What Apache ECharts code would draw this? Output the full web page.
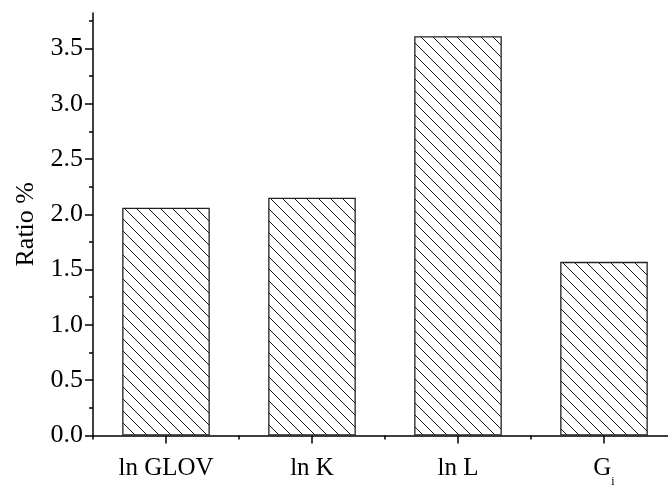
<!DOCTYPE html>
<html>
<head>
<meta charset="utf-8">
<script src="https://cdn.jsdelivr.net/npm/echarts@6/dist/echarts.min.js"></script>
<style>html,body{margin:0;padding:0;background:#fff;}#c{width:668px;height:489px;}</style>
</head>
<body>
<div id="c"></div>
<script>
var categories = ['ln GLOV', 'ln K', 'ln L', '{g|G}{sub|i}'];
var ratioValues = [2.06, 2.15, 3.61, 1.57];
var yMajorTicks = [0, 0.5, 1.0, 1.5, 2.0, 2.5, 3.0, 3.5];
var yMinorTicks = [0.25, 0.75, 1.25, 1.75, 2.25, 2.75, 3.25, 3.75];

var FONT = '"Liberation Serif", "Times New Roman", serif';

function makeHatch() {
  var s = 12;
  var cv = document.createElement('canvas');
  cv.width = s; cv.height = s;
  var ctx = cv.getContext('2d');
  ctx.fillStyle = '#ffffff';
  ctx.fillRect(0, 0, s, s);
  ctx.strokeStyle = '#1a1a1a';
  ctx.lineWidth = 1;
  ctx.beginPath();
  ctx.moveTo(-2, -2); ctx.lineTo(s + 2, s + 2);
  ctx.moveTo(-2, s - 2); ctx.lineTo(2, s + 2);
  ctx.moveTo(s - 2, -2); ctx.lineTo(s + 2, 2);
  ctx.stroke();
  return cv;
}

var chart = echarts.init(document.getElementById('c'), null, {renderer: 'canvas'});
var axisColor = '#000';
chart.setOption({
  animation: false,
  backgroundColor: '#fff',
  grid: {left: 93, top: 13, width: 584, height: 422.5, containLabel: false, outerBoundsMode: 'none'},
  xAxis: [{
    type: 'category',
    position: 'bottom',
    data: categories,
    axisLine: {show: true, lineStyle: {color: axisColor, width: 1.5}},
    axisTick: {show: true, alignWithLabel: true, length: 8, lineStyle: {color: axisColor, width: 1.5}},
    axisLabel: {
      color: '#000', fontFamily: FONT, fontSize: 25, margin: 20, interval: 0,
      rich: {
        g: {fontSize: 25, fontFamily: FONT, color: '#000', verticalAlign: 'bottom', padding: [0, 0, 7, 0]},
        sub: {fontSize: 12, fontFamily: FONT, color: '#000', verticalAlign: 'bottom', padding: [0, 0, 0, 0]}
      }
    },
    splitLine: {show: false}
  }, {
    type: 'category',
    position: 'bottom',
    data: categories,
    axisLine: {show: false},
    axisTick: {show: true, alignWithLabel: false, length: 4, lineStyle: {color: axisColor, width: 1.5}},
    axisLabel: {show: false},
    splitLine: {show: false}
  }],
  yAxis: [{
    type: 'value',
    position: 'left',
    min: 0, max: 3.82,
    name: 'Ratio %',
    nameLocation: 'middle',
    nameGap: 52,
    nameTextStyle: {color: '#000', fontFamily: FONT, fontSize: 26},
    axisLine: {show: true, lineStyle: {color: axisColor, width: 1.5}},
    axisTick: {show: true, length: 8, customValues: yMajorTicks, lineStyle: {color: axisColor, width: 1.5}},
    axisLabel: {
      color: '#000', fontFamily: FONT, fontSize: 26, margin: 10, customValues: yMajorTicks,
      formatter: function (v) { return v.toFixed(1); }
    },
    splitLine: {show: false}
  }, {
    type: 'value',
    position: 'left',
    min: 0, max: 3.82,
    axisLine: {show: false},
    axisTick: {show: true, length: 4, customValues: yMinorTicks, lineStyle: {color: axisColor, width: 1.5}},
    axisLabel: {show: false},
    splitLine: {show: false}
  }],
  series: [{
    type: 'bar',
    xAxisIndex: 0,
    yAxisIndex: 0,
    data: ratioValues,
    barWidth: '60%',
    itemStyle: {
      color: {image: makeHatch(), repeat: 'repeat'},
      borderColor: '#222',
      borderWidth: 1.3
    },
    emphasis: {disabled: true}
  }]
});
</script>
</body>
</html>
